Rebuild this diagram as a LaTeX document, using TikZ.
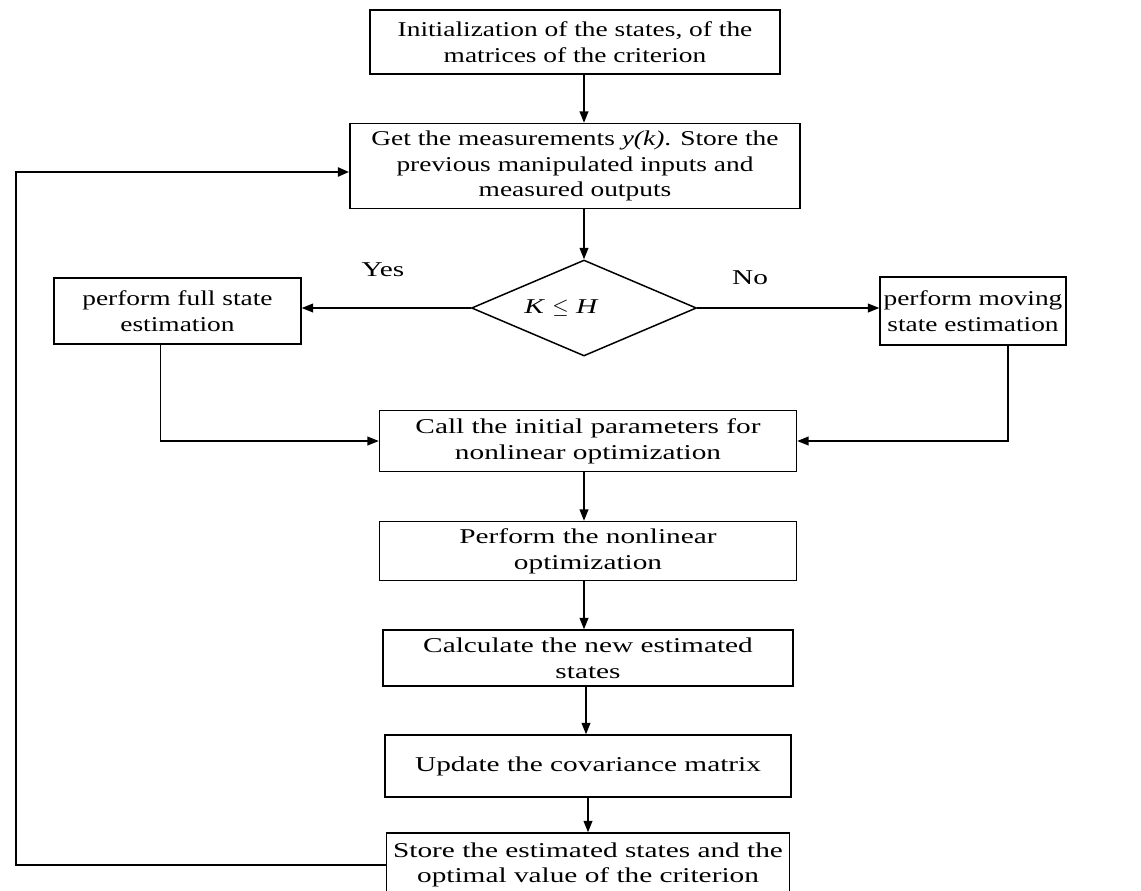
\documentclass[tikz,border=0pt]{standalone}
\usepackage{amsmath,amssymb}
\usepackage{fontspec}
\setmainfont{Liberation Serif}[FakeStretch=1.39]
\newfontfamily\narrowserif{Liberation Serif}[FakeStretch=1.3]
\usetikzlibrary{arrows.meta,shapes.geometric}

\begin{document}
\begin{tikzpicture}[x=0.02cm, y=-0.02cm,
    every node/.style={font=\fontsize{12}{14.6}\selectfont},
    box/.style={draw, line width=0.85pt, align=center, inner sep=2pt},
    upbox/.style={box, font=\narrowserif\fontsize{12}{14.6}\selectfont},
    decision/.style={draw, line width=0.85pt, diamond, inner sep=0pt},
    flow/.style={-{Triangle[length=6.5pt, width=5pt]}, line width=0.85pt},
    loopline/.style={-{Triangle[length=6.5pt, width=5pt]}, line width=1.6pt}]
  \useasboundingbox (0,0) rectangle (1141,890);

  % Main column
  \node[upbox, minimum width=8.2cm, minimum height=1.28cm] (init) at (575,42)
    {Initialization of the states, of the\\ matrices of the criterion};
  \node[upbox, minimum width=9.0cm, minimum height=1.7cm] (meas) at (575,166)
    {Get the measurements \textit{y(k)}. Store the\\ previous manipulated inputs and\\ measured outputs};
  \node[decision, minimum width=4.5cm, minimum height=1.92cm] (dec) at (584,308)
    {\hspace*{-0.9cm}\textit{K} $\leq$ \textit{H}};

  % Branches
  \node[upbox, minimum width=4.94cm, minimum height=1.32cm] (full) at (177.5,311)
    {perform full state\\ estimation};
  \node[upbox, minimum width=3.7cm, minimum height=1.36cm] (moving) at (973,311)
    {perform moving\\ state estimation};
  \node (yes) at (383,270) {Yes};
  \node (no) at (750,278) {No};

  \node[box, minimum width=8.34cm, minimum height=1.22cm] (call) at (588,441)
    {Call the initial parameters for\\ nonlinear optimization};
  \node[box, minimum width=8.34cm, minimum height=1.18cm] (perf) at (588,551)
    {Perform the nonlinear\\ optimization};
  \node[box, minimum width=8.2cm, minimum height=1.12cm] (calc) at (588,658)
    {Calculate the new estimated\\ states};
  \node[box, minimum width=8.12cm, minimum height=1.24cm] (upd) at (588,766)
    {Update the covariance matrix};
  \node[box, minimum width=8.06cm, minimum height=1.28cm] (store) at (588,865)
    {Store the estimated states and the\\ optimal value of the criterion};

  % Connectors
  \draw[flow] (init.south -| 584,0) -- (meas.north -| 584,0);
  \draw[flow] (meas.south -| dec.north) -- (dec.north);
  \draw[flow] (dec.west) -- (full.east |- dec.west);
  \draw[flow] (dec.east) -- (moving.west |- dec.east);
  \draw[flow] ([xshift=-0.34cm]full.south) |- (call.west);
  \draw[flow] ([xshift=0.7cm]moving.south) |- (call.east);
  \draw[flow] (call.south -| 584,0) -- (perf.north -| 584,0);
  \draw[flow] (perf.south -| 584,0) -- (calc.north -| 584,0);
  \draw[flow] (calc.south -| 586,0) -- (upd.north -| 586,0);
  \draw[flow] (upd.south -| 588,0) -- (store.north -| 588,0);

  % Feedback loop
  \coordinate (back) at (16,172);
  \draw[loopline] (store.west) -| (back) -- (back -| meas.west);
\end{tikzpicture}
\end{document}
